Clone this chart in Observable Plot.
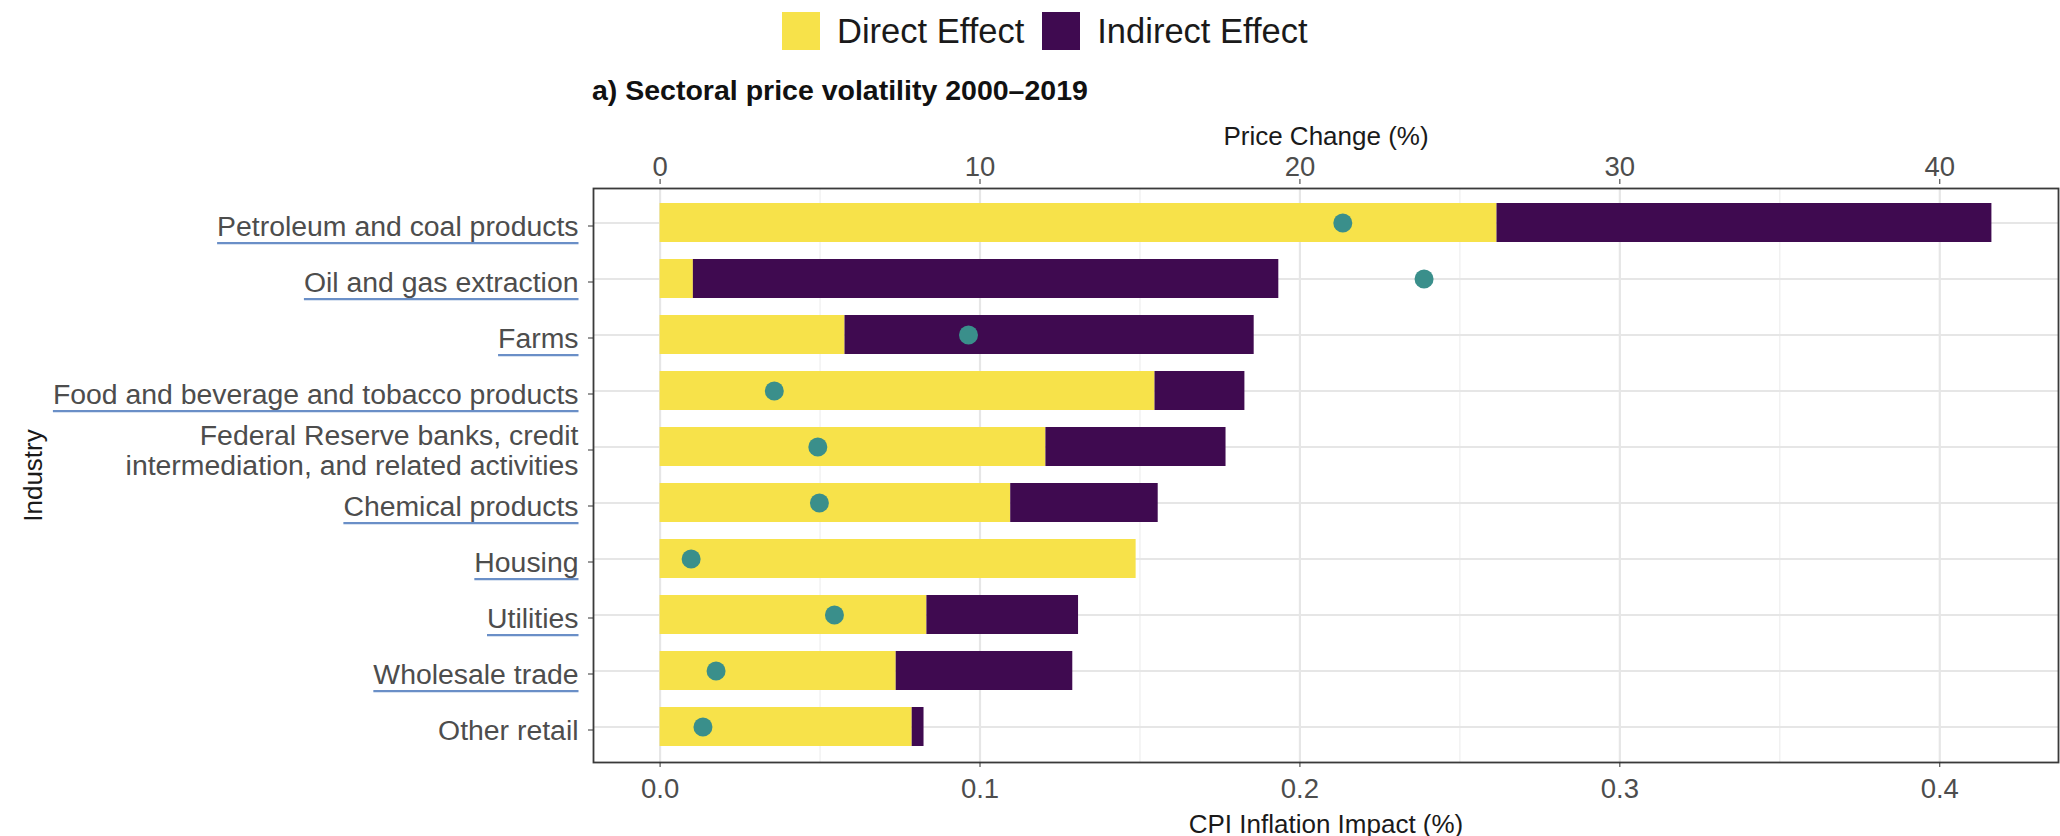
<!DOCTYPE html>
<html><head><meta charset="utf-8">
<script src="https://cdn.jsdelivr.net/npm/d3@7"></script>
<script src="https://cdn.jsdelivr.net/npm/@observablehq/plot@0.6"></script>
<style>
html,body{margin:0;padding:0;background:#fff;overflow:hidden;}
body{width:2060px;height:836px;position:relative;font-family:"Liberation Sans",Arial,Helvetica,sans-serif;}
#legend{position:absolute;left:782px;top:12px;display:flex;align-items:center;height:38px;}
.sw{width:38px;height:38px;flex:none;}
.lt{font-size:34.5px;line-height:1;color:#1a1a1a;margin-left:17px;margin-right:18px;white-space:nowrap;}
#title{position:absolute;left:592px;top:76px;font-size:28.5px;line-height:1;font-weight:bold;color:#111;white-space:nowrap;}
#chart{position:absolute;left:0;top:115px;}
</style></head><body>
<div id="legend"></div>
<div id="title"></div>
<div id="chart"></div>
<script>
// ---- data ----
const industries = [
  "Petroleum and coal products",
  "Oil and gas extraction",
  "Farms",
  "Food and beverage and tobacco products",
  "Federal Reserve banks, credit\nintermediation, and related activities",
  "Chemical products",
  "Housing",
  "Utilities",
  "Wholesale trade",
  "Other retail"
];
const directEffect   = [0.2616, 0.0104, 0.0578, 0.1547, 0.1206, 0.1096, 0.1488, 0.0834, 0.0738, 0.0788];
const indirectEffect = [0.1547, 0.1830, 0.1279, 0.0281, 0.0563, 0.0461, 0.0000, 0.0474, 0.0552, 0.0037];
const priceChange    = [21.34, 23.88, 9.64, 3.57, 4.93, 4.98, 0.97, 5.45, 1.75, 1.34]; // %, top axis
const effectNames = ["Direct Effect", "Indirect Effect"];
const effectColors = ["#F7E24A", "#3F0A50"];
const cpiTicks = [0, 0.1, 0.2, 0.3, 0.4];
const cpiTickLabels = ["0.0", "0.1", "0.2", "0.3", "0.4"];
const priceTickLabels = ["0", "10", "20", "30", "40"];
const minorTicks = [0.05, 0.15, 0.25, 0.35];
const underlinedIndustries = [
  "Petroleum and coal products", "Oil and gas extraction", "Farms",
  "Food and beverage and tobacco products", "Chemical products",
  "Housing", "Utilities", "Wholesale trade"
];
const titleText = "a) Sectoral price volatility 2000–2019";
const xTitleBottom = "CPI Inflation Impact (%)";
const xTitleTop = "Price Change (%)";
const yTitle = "Industry";

// ---- header (legend + title) ----
const legend = document.getElementById("legend");
effectNames.forEach((name, i) => {
  const sw = document.createElement("div");
  sw.className = "sw"; sw.style.background = effectColors[i];
  const lt = document.createElement("div");
  lt.className = "lt"; lt.textContent = name;
  legend.append(sw, lt);
});
document.getElementById("title").textContent = titleText;

// ---- chart ----
const rows = industries.flatMap((ind, i) => [
  {industry: ind, effect: effectNames[0], value: directEffect[i]},
  {industry: ind, effect: effectNames[1], value: indirectEffect[i]}
]);
const totals = industries.map((d, i) => directEffect[i] + indirectEffect[i]);
const xMax = Math.max(d3.max(totals), d3.max(priceChange) / 100);
const xExp = xMax * 0.05;

const font = "Liberation Sans, Arial, Helvetica, sans-serif";
const chart = Plot.plot({
  width: 2060,
  height: 721,
  marginTop: 73,
  marginBottom: 74,
  marginLeft: 593,
  marginRight: 2,
  style: {fontFamily: font, background: "#fff", overflow: "visible"},
  x: {domain: [-xExp, xMax + xExp]},
  y: {domain: industries, paddingInner: 0.3, paddingOuter: 0.23},
  color: {domain: effectNames, range: effectColors},
  marks: [
    Plot.gridX(minorTicks, {stroke: "#eeeeee", strokeWidth: 1.2, strokeOpacity: 1}),
    Plot.gridX(cpiTicks, {stroke: "#e6e6e6", strokeWidth: 2.2, strokeOpacity: 1}),
    Plot.gridY(industries, {stroke: "#e6e6e6", strokeWidth: 2.2, strokeOpacity: 1}),
    Plot.barX(rows, {y: "industry", x: "value", fill: "effect", order: effectNames}),
    Plot.dot(industries, {y: d => d, x: (d, i) => priceChange[i] / 100, r: 9.5, fill: "#3A8F8B", stroke: "none"}),
    Plot.frame({stroke: "#3a3a3a", strokeWidth: 1.8}),
    // bottom axis
    Plot.axisX({anchor: "bottom", ticks: cpiTicks, tickFormat: d => cpiTickLabels[cpiTicks.indexOf(d)],
      tickSize: 5, tickPadding: 11, fontSize: 27.5, color: "#4d4d4d", stroke: "#333", label: null}),
    Plot.axisX({anchor: "bottom", ticks: [], label: xTitleBottom, labelAnchor: "center", labelArrow: "none",
      labelOffset: 70, fontSize: 26, color: "#1a1a1a"}),
    // top axis (price change = CPI impact x 100)
    Plot.axisX({anchor: "top", ticks: cpiTicks, tickFormat: d => priceTickLabels[cpiTicks.indexOf(d)],
      tickSize: 5, tickPadding: 3, dy: -5, fontSize: 27.5, color: "#4d4d4d", stroke: "#333", label: null}),
    Plot.axisX({anchor: "top", ticks: [], label: xTitleTop, labelAnchor: "center", labelArrow: "none",
      labelOffset: 62, fontSize: 26, color: "#1a1a1a"}),
    // y axis
    Plot.axisY({anchor: "left", tickSize: 5, tickPadding: 10, fontSize: 28.4, color: "#4d4d4d", stroke: "#333",
      label: null, lineHeight: 1.06, dy: 3}),
    Plot.axisY({anchor: "left", ticks: [], label: yTitle, labelAnchor: "center", labelArrow: "none",
      labelOffset: 570, fontSize: 26, color: "#1a1a1a"})
  ]
});
document.getElementById("chart").append(chart);

// blue underlines under the linked industry labels
const svgNS = "http://www.w3.org/2000/svg";
chart.querySelectorAll('g[aria-label="y-axis tick label"] text').forEach(t => {
  if (!underlinedIndustries.includes(t.textContent)) return;
  const b = t.getBBox();
  const line = document.createElementNS(svgNS, "line");
  line.setAttribute("x1", b.x);
  line.setAttribute("x2", b.x + b.width);
  line.setAttribute("y1", b.y + b.height + 1.5);
  line.setAttribute("y2", b.y + b.height + 1.5);
  line.setAttribute("stroke", "#6a8fc7");
  line.setAttribute("stroke-width", 2.2);
  const tr = t.getAttribute("transform");
  if (tr) line.setAttribute("transform", tr);
  t.parentNode.appendChild(line);
});
</script>
</body></html>
